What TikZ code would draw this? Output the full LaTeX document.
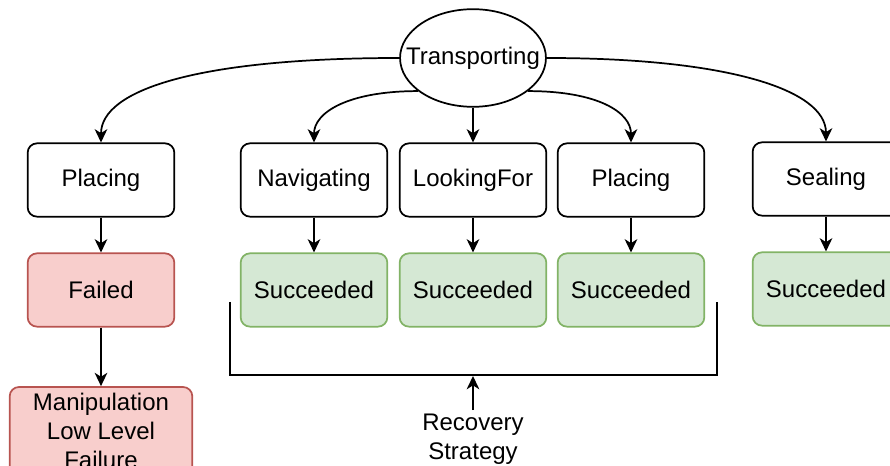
\documentclass[tikz,border=0pt]{standalone}
\usepackage{fontspec}
\setmainfont{Liberation Sans}
\usepackage{tikz}
\usetikzlibrary{shapes}
\usetikzlibrary{arrows.meta}
\definecolor{failfill}{HTML}{F8CECC}
\definecolor{faildraw}{HTML}{B85450}
\definecolor{okfill}{HTML}{D5E8D4}
\definecolor{okdraw}{HTML}{82B366}
\tikzset{
	main node/.style={ellipse,draw,inner xsep=-11.5pt,inner ysep=17.5pt,minimum width=109pt,minimum height=73pt,font=\fontsize{18}{22}\selectfont},
	state node/.style={rectangle,draw,rounded corners=7pt,minimum width=110pt,minimum height=55pt,font=\fontsize{18}{22}\selectfont},
	fail node/.style={state node,draw=faildraw,fill=failfill},
	ok node/.style={state node,draw=okdraw,fill=okfill}
}

\begin{document}
\begin{tikzpicture}[x=0.75pt,y=-0.75pt,->,>={Stealth[length=10pt,width=9.5pt,inset=3pt]},line width=1.3pt]
            \useasboundingbox (0,0) rectangle (890,466);
            \node [main node] (trans) at (473,58) {Transporting};
            % second level
            \node [state node] (place1) at (101,180) {Placing};
            \node [state node] (nav) at (314,180) {Navigating};
            \node [state node] (look) at (473,180) {LookingFor};
            \node [state node] (place2) at (631,180) {Placing};
            \node [state node] (seal) at (826,179) {Sealing};
            % outcomes
            \node [fail node] (fail) at (101,290) {Failed};
            \node [ok node] (succ1) at (314,290) {Succeeded};
            \node [ok node] (succ2) at (473,290) {Succeeded};
            \node [ok node] (succ3) at (631,290) {Succeeded};
            \node [ok node] (succ4) at (826,289) {Succeeded};
            \node [fail node,minimum width=137pt,minimum height=66pt,inner sep=1pt,align=center] (lowfail) at (101,431) {Manipulation\\Low Level\\Failure};
            \node [align=center,font=\fontsize{18}{22}\selectfont,inner sep=2pt] (recov) at (473,439) {Recovery\\Strategy};
            \coordinate (bleft) at (230,302);
            \coordinate (bright) at (717,302);
            \coordinate (bbot) at (717,375);
            \coordinate (bmid) at (473,376);

            \draw (trans.west) .. controls +(-200,0) and +(0,-53) .. (place1.north);
            \draw (trans.211) .. controls +(-70,0) and +(0,-30) .. (nav.north);
            \draw (trans.south) -- (look.north);
            \draw (trans.329) .. controls +(70,0) and +(0,-30) .. (place2.north);
            \draw (trans.east) .. controls +(180,0) and +(0,-52) .. (seal.north);
            \draw (place1) -- (fail);
            \draw (nav) -- (succ1);
            \draw (look) -- (succ2);
            \draw (place2) -- (succ3);
            \draw (seal) -- (succ4);
            \draw (fail) -- (lowfail);
            \draw [-] (bleft) |- (bbot) -- (bright);
            \draw (recov.north) -- (bmid);
          \end{tikzpicture}
\end{document}
